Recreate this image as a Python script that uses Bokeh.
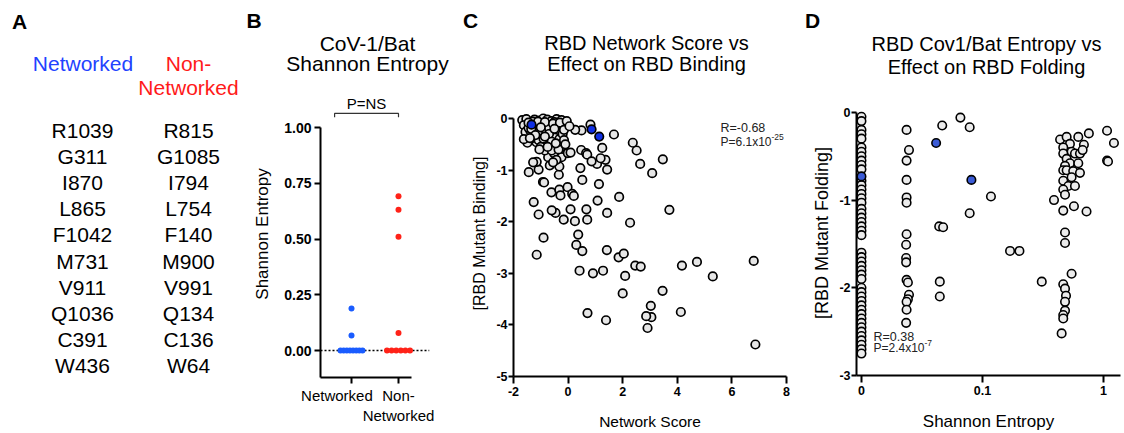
import numpy as np
from bokeh.plotting import figure
from bokeh.models import (Range1d, FixedTicker, NumeralTickFormatter, Label, Span,
                          ColumnDataSource, CustomJSTickFormatter)
from bokeh.layouts import row, column
from bokeh.embed import file_html
from bokeh.resources import INLINE
from bokeh.core.properties import value

FONT = "Liberation Sans"
FULL_H = 433
TOP_H = 90
ROW_H = FULL_H - TOP_H
A_W = 240

# ---------------- data ----------------
# Panel A
networked_residues = ["R1039", "G311", "I870", "L865", "F1042", "M731", "V911", "Q1036", "C391", "W436"]
non_networked_residues = ["R815", "G1085", "I794", "L754", "F140", "M900", "V991", "Q134", "C136", "W64"]

# Panel B
group_labels = ["Networked" + "\u00a0" * 7, "Non-\nNetworked"]
networked_entropy = [0.188, 0.067, 0, 0, 0, 0, 0, 0, 0, 0]
non_networked_entropy = [0.692, 0.631, 0.510, 0.079, 0, 0, 0, 0, 0, 0]

# Panel C
network_score = [
    6.80, 6.86, 5.30, 4.72, 4.17, 4.13, 3.46, 3.71, 3.47, 3.08, 2.64, 2.51, 2.37, 1.68, 1.25,
    1.37, 1.43, 1.06, 1.19, 0.82, 0.49, 0.26, 0.48, 0.66, 0.70, 0.86, 0.45, 0.52, 1.13, 1.08,
    1.43, 1.87, 2.27, 0.67, 0.70, 0.25, 0.09, 0.37, 0.30, 0.52, 0.42, 0.91, 1.28, 1.42, 1.85,
    2.04, 2.09, 2.00, 2.46, 2.66, 3.03, 3.05, 2.86, 2.91, 1.39, 0.71, -0.16, -0.46, -0.60, -0.90,
    -1.15, -1.08, -1.26, -1.44, -1.08, -1.15, -1.28, -0.92, -0.88, -0.61, -0.32, -0.28, -0.02, 0.15, 0.21,
    -0.34, -0.67, -0.73, -0.52, -0.32, -0.24, -0.01, 0.09, -0.28, -0.25, -0.49, -0.77, -1.16, -1.49,
    -1.68, -1.53, -1.23, -1.06, -0.91, -0.76, -0.61, -0.42, -0.24,
    -1.62, -1.21, -1.04, -0.78, -0.61, -0.37, -0.24,
    -1.56, -1.38, -1.15, -0.98, -0.80, -0.61, -0.43, -0.27,
    -1.62, -1.32, -1.08, -0.90, -0.66, -0.49, -0.32,
    -1.00, -0.85, -0.60, -0.43, -0.55, -0.20, -0.15, -0.90, -1.45, -0.70, -0.50, -1.30,
    -1.45, -1.10, -0.85, -0.55, -0.30, -1.35, -1.00, -0.70, -0.50, -0.15, -1.20, -0.85,
    -0.60, -0.35, -0.15, -1.40, -1.05, -0.75, -0.45, -0.10, -0.05, 0.05,
]
rbd_binding = [
    -2.76, -4.38, -3.06, -2.78, -2.85, -3.75, -3.34, -1.77, -0.79, -1.06, -0.88, -0.62, -0.47, -0.31, -0.57,
    -0.80, -0.99, -0.88, -0.77, -0.12, -0.23, -0.22, -0.61, -0.67, -0.70, -0.83, -0.96, -1.19, -1.27, -1.59,
    -1.83, -1.52, -2.02, -1.76, -1.96, -1.99, -1.76, -2.25, -2.45, -2.57, -2.95, -3.00, -2.95, -2.55, -2.69,
    -2.62, -3.05, -3.39, -2.85, -2.87, -3.63, -3.85, -3.83, -4.06, -3.91, -3.77, -1.96, -1.83, -1.78, -2.31,
    -2.64, -1.86, -1.62, -1.04, -0.99, -0.84, -0.85, -1.23, -1.24, -1.43, -1.38, -1.49, -1.33, -1.46, -1.50,
    -1.09, -0.91, -0.75, -0.67, -0.93, -0.75, -0.67, -0.66, -0.56, -0.47, -0.52, -0.49, -0.46, -0.47,
    -0.03, -0.01, -0.02, -0.04, 0.00, -0.02, -0.05, -0.01, -0.03,
    -0.13, -0.11, -0.14, -0.12, -0.15, -0.11, -0.14,
    -0.26, -0.24, -0.27, -0.23, -0.26, -0.28, -0.24, -0.27,
    -0.40, -0.38, -0.42, -0.39, -0.41, -0.37, -0.40,
    -0.55, -0.62, -0.62, -0.80, -0.85, -0.30, -0.18, -0.10, -0.18, -0.18, -0.07, -0.06,
    -0.08, -0.06, -0.07, -0.10, -0.08, -0.20, -0.17, -0.30, -0.20, -0.22, -0.32, -0.35,
    -0.45, -0.60, -0.42, -0.38, -0.60, -0.55, -0.48, -0.50, -0.05, -0.15,
]
network_score_hi = [-1.34, 0.86, 1.14]
rbd_binding_hi = [-0.12, -0.21, -0.35]

# Panel D
cov1_bat_entropy = (
    [0.0] * 47 +
    [0.0236, 0.0247, 0.0236, 0.0236, 0.0236, 0.0236, 0.0236, 0.0234, 0.0234, 0.0234, 0.0236, 0.0242,
     0.0247, 0.0242, 0.0236, 0.0236, 0.0234,
     0.0465, 0.0439, 0.0473, 0.0444, 0.0444,
     0.0657, 0.0784, 0.0784, 0.1175, 0.169, 0.202, 0.309, 0.39,
     0.438, 0.496, 0.528, 0.465, 0.619, 0.689, 0.545, 0.465, 0.496, 0.581, 0.639, 0.672, 0.528, 0.481,
     0.619, 0.465, 0.496, 0.562, 0.639, 0.545, 0.465, 0.512, 0.581, 0.465, 0.481, 0.724, 0.570, 0.465,
     0.481, 0.481, 0.545, 0.465, 0.481, 0.490, 0.481, 0.481, 0.465, 0.465, 0.451,
     0.757, 1.07, 1.22, 1.07, 1.09]
)
rbd_folding = (
    [-0.05, -0.10, -0.20, -0.25, -0.30, -0.40, -0.45, -0.50, -0.55, -0.60, -0.65, -0.78, -0.83,
     -0.88, -0.93, -0.98, -1.03, -1.10, -1.15, -1.20, -1.25, -1.30, -1.35, -1.40, -1.60, -1.65,
     -1.70, -1.75, -1.80, -1.85, -1.90, -2.00, -2.05, -2.10, -2.15, -2.20, -2.25, -2.30, -2.35,
     -2.40, -2.45, -2.50, -2.55, -2.60, -2.65, -2.70, -2.75] +
    [-0.20, -0.43, -0.55, -0.77, -0.97, -1.03, -1.39, -1.51, -1.66, -1.71, -1.91, -1.94,
     -2.08, -2.13, -2.16, -2.25, -2.40,
     -0.15, -1.30, -1.31, -1.93, -2.10,
     -0.06, -0.17, -1.15, -0.96, -1.58, -1.58, -1.93, -1.00,
     -0.31, -0.28, -0.36, -0.40, -0.28, -0.37, -0.45, -0.47, -0.53, -0.47, -0.47, -0.43, -0.58, -0.61,
     -0.58, -0.66, -0.66, -0.67, -0.69, -0.74, -0.78, -0.84, -0.84, -0.88, -0.94, -1.13, -1.07, -1.12,
     -1.37, -1.49, -1.84, -1.96, -2.01, -2.09, -2.16, -2.26, -2.31, -2.35, -2.52,
     -0.24, -0.21, -0.35, -0.55, -0.56]
)
entropy_hi = [0.0, 0.0414, 0.081]
folding_hi = [-0.73, -0.35, -0.77]

# ---------------- helpers ----------------
def base_fig(width, left, right, top, bottom, **kw):
    p = figure(width=width, height=ROW_H, output_backend="svg", toolbar_location=None, tools="",
               min_border_left=left, min_border_right=right, min_border_top=top,
               min_border_bottom=bottom, **kw)
    p.frame_align = False
    p.outline_line_color = None
    p.background_fill_color = "white"
    p.border_fill_color = "white"
    p.xgrid.visible = False
    p.ygrid.visible = False
    return p


def style_axis(ax, tick_size, label_size, tick_out=6, standoff=3, label_standoff=8):
    ax.axis_line_width = 2
    ax.axis_line_color = "black"
    ax.major_tick_line_width = 2
    ax.major_tick_line_color = "black"
    ax.major_tick_out = tick_out
    ax.major_tick_in = 0
    ax.minor_tick_out = 0
    ax.minor_tick_in = 0
    ax.major_label_standoff = standoff
    ax.major_label_text_font = FONT
    ax.major_label_text_font_style = "bold"
    ax.major_label_text_font_size = f"{tick_size}px"
    ax.major_label_text_color = "black"
    ax.axis_label_text_font = FONT
    ax.axis_label_text_font_style = "normal"
    ax.axis_label_text_font_size = f"{label_size}px"
    ax.axis_label_text_color = "black"
    ax.axis_label_standoff = label_standoff


def lab(p, text, sx, sy, size, style="normal", color="black", align="center", baseline="middle"):
    p.add_layout(Label(x=sx, y=sy, x_units="screen", y_units="screen", text=text,
                       text_font=FONT, text_font_size=f"{size}px", text_font_style=style,
                       text_color=color, text_align=align, text_baseline=baseline))


def plain_text_fig(x0, x1, y_top, y_bottom):
    p = figure(width=x1 - x0, height=y_bottom - y_top, output_backend="svg", toolbar_location=None,
               tools="", x_range=Range1d(x0, x1), y_range=Range1d(y_bottom, y_top), min_border=0,
               x_axis_location=None, y_axis_location=None)
    p.frame_align = False
    p.outline_line_color = None
    p.xgrid.visible = False
    p.ygrid.visible = False
    return p


def txt(p, xs, ys, texts, size, color="black", style="normal"):
    p.text(x=xs, y=ys, text=texts, text_font=value(FONT), text_font_size=f"{size}px",
           text_font_style=style, text_align="center", text_baseline="middle", text_color=color)


BLUE_A = "#2242ff"
RED_A = "#ff1a1a"
hyphen_fmt = "return tick.toString()"

# ---------------- Panel A (full height) ----------------
pA = plain_text_fig(0, A_W, 0, FULL_H)
txt(pA, [19], [21], ["A"], 21, style="bold")
txt(pA, [82.5], [63], ["Networked"], 21, color=BLUE_A)
txt(pA, [188, 188], [63, 87], ["Non-", "Networked"], 21, color=RED_A)
rows_y = 130 + 26.1 * np.arange(len(networked_residues))
srcA = ColumnDataSource(dict(x1=np.full(len(rows_y), 82.0), x2=np.full(len(rows_y), 188.0), y=rows_y,
                             n=networked_residues, nn=non_networked_residues))
for xcol, tcol in (("x1", "n"), ("x2", "nn")):
    pA.text(x=xcol, y="y", text=tcol, source=srcA, text_font=value(FONT), text_font_size="21px",
            text_align="center", text_baseline="middle", text_color="black")

# ---------------- top strip over B-D: panel letters and titles ----------------
pTop = plain_text_fig(A_W, 1124, 0, TOP_H)
txt(pTop, [253.5, 470, 812], [20, 20, 20], ["B", "C", "D"], 21, style="bold")
txt(pTop, [367, 367], [43, 63], ["CoV-1/Bat", "Shannon Entropy"], 21)
txt(pTop, [646, 646], [42, 63], ["RBD Network Score vs", "Effect on RBD Binding"], 20)
txt(pTop, [986, 986], [43, 66], ["RBD Cov1/Bat Entropy vs", "Effect on RBD Folding"], 20)

# ---------------- Panel B ----------------
pB = base_fig(455 - A_W, 320 - A_W, 26, 0, 56, x_range=Range1d(0.34, 2.66),
              y_range=Range1d(-0.121, 1.166))
style_axis(pB.yaxis[0], 14, 17, tick_out=6, standoff=3, label_standoff=9)
style_axis(pB.xaxis[0], 15, 15, tick_out=6, standoff=3)
pB.xaxis[0].major_label_text_font_style = "normal"
pB.yaxis[0].ticker = FixedTicker(ticks=[0, 0.25, 0.5, 0.75, 1.0])
pB.yaxis[0].formatter = NumeralTickFormatter(format="0.00")
pB.yaxis[0].bounds = (-0.121, 1.0)
pB.yaxis[0].axis_label = "Shannon Entropy"
pB.xaxis[0].ticker = FixedTicker(ticks=[1, 2])
pB.xaxis[0].major_label_overrides = {1: group_labels[0], 2: group_labels[1]}
pB.xaxis[0].bounds = (0.34, 2.277)

pB.add_layout(Span(location=0, dimension="width", line_color="black", line_width=1.5,
                   line_dash="2 2", level="underlay"))


def swarm_x(vals, center, half_width):
    vals = np.asarray(vals, dtype=float)
    xs = np.full(len(vals), float(center))
    zero = np.where(vals == 0)[0]
    if len(zero) > 1:
        xs[zero] = center + np.linspace(-half_width, half_width, len(zero))
    return xs


pB.scatter(swarm_x(networked_entropy, 1, 0.234), networked_entropy, size=6,
           fill_color="#1a5cff", line_color=None)
pB.scatter(swarm_x(non_networked_entropy, 2, 0.245), non_networked_entropy, size=6,
           fill_color="#ff2218", line_color=None)
pB.line([0.64, 0.64, 2.0, 2.0], [1.046, 1.063, 1.063, 1.046], line_color="#333333", line_width=1.2)
pB.add_layout(Label(x=1.32, y=1.108, text="P=NS", text_font=FONT, text_font_size="15px",
                    text_align="center", text_baseline="middle", text_color="black"))

# ---------------- Panel C ----------------
pC = base_fig(340, 58, 9, 0, 57, x_range=Range1d(-2, 8), y_range=Range1d(-5, 0.543))
style_axis(pC.yaxis[0], 12.5, 16, tick_out=5, standoff=1, label_standoff=5)
style_axis(pC.xaxis[0], 12.5, 15.5, tick_out=7, standoff=3, label_standoff=14)
pC.yaxis[0].ticker = FixedTicker(ticks=[0, -1, -2, -3, -4, -5])
pC.yaxis[0].formatter = CustomJSTickFormatter(code=hyphen_fmt)
pC.yaxis[0].bounds = (-5, 0)
pC.yaxis[0].axis_label = "[RBD Mutant Binding]"
pC.xaxis[0].ticker = FixedTicker(ticks=[-2, 0, 2, 4, 6, 8])
pC.xaxis[0].formatter = CustomJSTickFormatter(code=hyphen_fmt)
pC.xaxis[0].axis_label = "Network Score"
pC.scatter(network_score, rbd_binding, size=8.5, fill_color="#e6e6e6", line_color="black",
           line_width=1.7)
pC.scatter(network_score_hi, rbd_binding_hi, size=8.5, fill_color="#1030e6", line_color="black",
           line_width=1.7)
# frame: left 513, bottom 376 (page px)
lab(pC, "R=-0.68", 207, 249, 12.5, align="left", color="#222222")
lab(pC, "P=6.1x10", 207, 235, 12, align="left", color="#222222")
lab(pC, "-25", 258, 240, 8.5, align="left", color="#222222")

# ---------------- Panel D ----------------
pD = base_fig(329, 61, 4, 0, 56, x_axis_type="log", x_range=Range1d(0.0091, 1.382),
              y_range=Range1d(-3, 0.249))
style_axis(pD.yaxis[0], 12.5, 18, tick_out=5, standoff=1, label_standoff=4)
style_axis(pD.xaxis[0], 12.5, 17, tick_out=7, standoff=3, label_standoff=14)
pD.yaxis[0].ticker = FixedTicker(ticks=[0, -1, -2, -3])
pD.yaxis[0].formatter = CustomJSTickFormatter(code=hyphen_fmt)
pD.yaxis[0].bounds = (-3, 0)
pD.yaxis[0].axis_label = "[RBD Mutant Folding]"
pD.xaxis[0].ticker = FixedTicker(ticks=[0.01, 0.1, 1])
pD.xaxis[0].formatter = CustomJSTickFormatter(code="return tick < 0.05 ? '0' : String(tick)")
pD.xaxis[0].axis_label = "Shannon Entropy"

ent = np.asarray(cov1_bat_entropy)
ent_plot = np.where(ent == 0, 0.01, ent)      # zero entropy drawn at the "0" tick
ent_hi = np.asarray(entropy_hi)
ent_hi_plot = np.where(ent_hi == 0, 0.01, ent_hi)
pD.scatter(ent_plot, rbd_folding, size=8.5, fill_color="#ececec", line_color="black", line_width=1.6)
pD.scatter(ent_hi_plot, folding_hi, size=8.5, fill_color="#3b5bd6", line_color="black", line_width=1.6)
# frame: left 856, bottom 377 (page px)
lab(pD, "R=0.38", 17, 39, 12.5, align="left", color="#222222")
lab(pD, "P=2.4x10", 17, 28, 12, align="left", color="#222222")
lab(pD, "-7", 68, 33, 8.5, align="left", color="#222222")

layout = row(pA, column(pTop, row(pB, pC, pD)))
open("out.html", "w").write(file_html(layout, INLINE))
